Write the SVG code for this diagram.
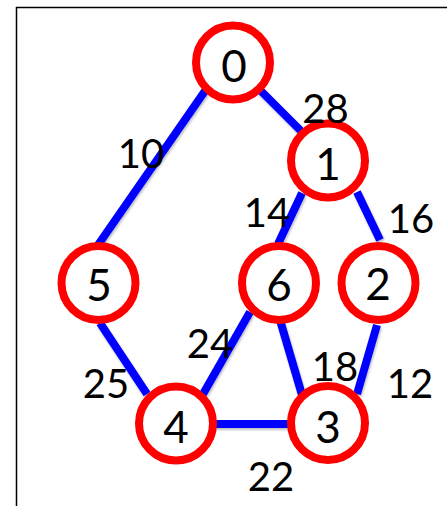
<svg xmlns="http://www.w3.org/2000/svg" width="447" height="506" viewBox="0 0 447 506">
<style>
.edge{stroke:#0000ff;stroke-width:8;fill:none}
.node circle{fill:#fff;stroke:#ff0000;stroke-width:8}
.node text{font-family:Lato,"Liberation Sans",sans-serif;font-size:44px;fill:#000;text-anchor:middle}
.lbl{font-family:Lato,"Liberation Sans",sans-serif;font-size:40px;fill:#000;text-anchor:middle}
</style>
<defs>
<filter id="sh" x="-20%" y="-20%" width="140%" height="140%">
<feDropShadow dx="1" dy="2" stdDeviation="1.2" flood-color="#000" flood-opacity="0.25"/>
</filter>
</defs>
<rect x="16.5" y="7.5" width="440" height="510" fill="#fff" stroke="#000" stroke-width="1.5"/>
<g id="connectors" filter="url(#sh)">
<line class="edge" x1="207" y1="88" x2="98" y2="245"/>
<line class="edge" x1="258" y1="88" x2="305" y2="135"/>
<line class="edge" x1="302" y1="193" x2="278" y2="244"/>
<line class="edge" x1="357" y1="192" x2="380" y2="240"/>
<line class="edge" x1="100" y1="323" x2="147" y2="394"/>
<line class="edge" x1="250" y1="312" x2="203" y2="394"/>
<line class="edge" x1="280" y1="320" x2="302" y2="395"/>
<line class="edge" x1="377" y1="325" x2="357" y2="394"/>
<line class="edge" x1="210" y1="424" x2="294" y2="424"/>
</g>
<g id="node0" class="node"><circle cx="233" cy="62.5" r="37"/><text x="234" y="82">0</text></g>
<g id="node1" class="node"><circle cx="328" cy="160.5" r="37"/><text x="328" y="180">1</text></g>
<g id="node5" class="node"><circle cx="98.5" cy="283" r="37"/><text x="99" y="301">5</text></g>
<g id="node6" class="node"><circle cx="279" cy="283" r="37"/><text x="279" y="301">6</text></g>
<g id="node2" class="node"><circle cx="378.5" cy="283" r="37"/><text x="378" y="300">2</text></g>
<g id="node4" class="node"><circle cx="176" cy="423.5" r="37"/><text x="176" y="443">4</text></g>
<g id="node3" class="node"><circle cx="328" cy="423" r="37"/><text x="328" y="443">3</text></g>
<g id="labels">
<text class="lbl" x="325.5" y="123">28</text>
<text class="lbl" x="141" y="168">10</text>
<text class="lbl" x="267" y="227">14</text>
<text class="lbl" x="411" y="233">16</text>
<text class="lbl" x="210" y="358">24</text>
<text class="lbl" x="106" y="398">25</text>
<text class="lbl" x="335" y="381">18</text>
<text class="lbl" x="410" y="398">12</text>
<text class="lbl" x="271" y="491">22</text>
</g>
</svg>
